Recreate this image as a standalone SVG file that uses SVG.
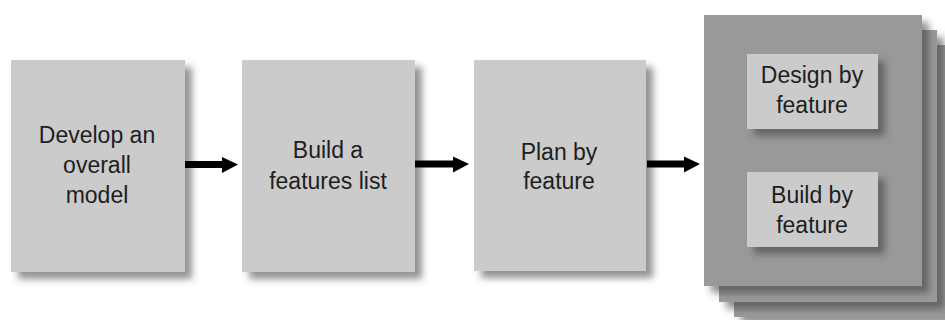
<svg xmlns="http://www.w3.org/2000/svg" width="945" height="320" viewBox="0 0 945 320">
  <style>
    .box { fill: #cbcbcb; }
    .panel { fill: #999999; }
    .label { font-family: "Liberation Sans", Arial, sans-serif; font-size: 23px; fill: #1e1e1e; text-anchor: middle; }
    .conn { stroke: #000; stroke-width: 7; fill: none; }
    .head { fill: #000; }
  </style>
  <defs>
    <filter id="shadow" x="-10%" y="-10%" width="130%" height="130%">
      <feDropShadow dx="7" dy="7" stdDeviation="3.5" flood-color="#3a3a3a" flood-opacity="0.55"/>
    </filter>
  </defs>
  <rect width="945" height="320" fill="#ffffff"/>

  <g id="develop-model">
    <rect class="box" x="11" y="60" width="174" height="212" filter="url(#shadow)"/>
    <text class="label" x="97" y="143">Develop an</text>
    <text class="label" x="97" y="173">overall</text>
    <text class="label" x="97" y="203">model</text>
  </g>

  <g id="build-features-list">
    <rect class="box" x="242" y="60" width="173" height="212" filter="url(#shadow)"/>
    <text class="label" x="328" y="158">Build a</text>
    <text class="label" x="328" y="189">features list</text>
  </g>

  <g id="plan-by-feature">
    <rect class="box" x="474" y="60" width="172" height="211" filter="url(#shadow)"/>
    <text class="label" x="559" y="160">Plan by</text>
    <text class="label" x="559" y="189">feature</text>
  </g>

  <g id="iteration">
    <!-- stacked panels, back to front -->
    <rect class="panel" x="734" y="45" width="220" height="272" filter="url(#shadow)"/>
    <rect class="panel" x="719" y="30" width="218" height="272" filter="url(#shadow)"/>
    <rect class="panel" x="704" y="15" width="218" height="271" filter="url(#shadow)"/>
    <g id="design-by-feature">
      <rect class="box" x="747" y="54" width="131" height="75" filter="url(#shadow)"/>
      <text class="label" x="812" y="83">Design by</text>
      <text class="label" x="812" y="113">feature</text>
    </g>
    <g id="build-by-feature">
      <rect class="box" x="747" y="172" width="131" height="75" filter="url(#shadow)"/>
      <text class="label" x="812" y="203">Build by</text>
      <text class="label" x="812" y="233">feature</text>
    </g>
  </g>

  <g id="connectors">
    <line class="conn" x1="185" y1="164.5" x2="224" y2="164.5"/>
    <polygon class="head" points="222,157 238,164.5 222,173"/>
    <line class="conn" x1="415" y1="164" x2="455" y2="164"/>
    <polygon class="head" points="453,156.5 469,164 453,172.5"/>
    <line class="conn" x1="647" y1="164" x2="686" y2="164"/>
    <polygon class="head" points="684,156.5 700,164 684,172.5"/>
  </g>
</svg>
